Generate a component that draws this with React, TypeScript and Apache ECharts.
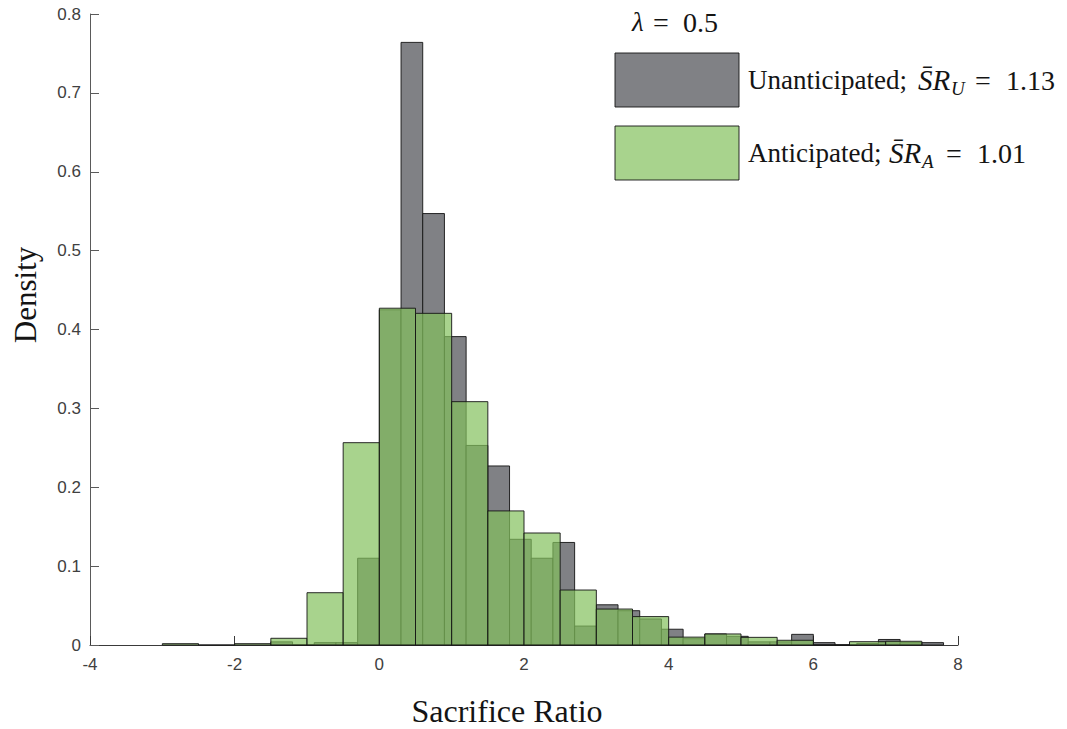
import React, { useEffect, useRef } from "react";
import * as echarts from "echarts";

// Unanticipated (grey) histogram: bin edges and densities
const unantBinStart = [-1.5, -1.2, -0.9, -0.6, -0.3, 0.0, 0.3, 0.6, 0.9, 1.2, 1.5, 1.8, 2.1, 2.4, 2.7, 3.0, 3.3, 3.6, 3.9, 4.2, 4.5, 4.8, 5.1, 5.4, 5.7, 6.0, 6.3, 6.6, 6.9, 7.2, 7.5];
const unantBinEnd = [-1.2, -0.9, -0.6, -0.3, 0.0, 0.3, 0.6, 0.9, 1.2, 1.5, 1.8, 2.1, 2.4, 2.7, 3.0, 3.3, 3.6, 3.9, 4.2, 4.5, 4.8, 5.1, 5.4, 5.7, 6.0, 6.3, 6.6, 6.9, 7.2, 7.5, 7.8];
const unantDensity = [0.004, 0, 0.003, 0.003, 0.110, 0.425, 0.764, 0.547, 0.391, 0.253, 0.227, 0.134, 0.110, 0.130, 0.024, 0.051, 0.0435, 0.033, 0.020, 0.008, 0.014, 0.011, 0.004, 0.004, 0.0135, 0.003, 0, 0.002, 0.007, 0.003, 0.003];

// Anticipated (green) histogram: bin edges and densities
const antBinStart = [-3.0, -2.5, -2.0, -1.5, -1.0, -0.5, 0.0, 0.5, 1.0, 1.5, 2.0, 2.5, 3.0, 3.5, 4.0, 4.5, 5.0, 5.5, 6.0, 6.5, 7.0];
const antBinEnd = [-2.5, -2.0, -1.5, -1.0, -0.5, 0.0, 0.5, 1.0, 1.5, 2.0, 2.5, 3.0, 3.5, 4.0, 4.5, 5.0, 5.5, 6.0, 6.5, 7.0, 7.5];
const antDensity = [0.0017, 0, 0.0017, 0.0085, 0.0663, 0.2565, 0.427, 0.4205, 0.3085, 0.170, 0.142, 0.0697, 0.0456, 0.036, 0.010, 0.014, 0.0097, 0.006, 0, 0.0042, 0.0047];

const xTicks = { min: -4, max: 8, interval: 2 };
const yTicks = { min: 0, max: 0.8, interval: 0.1 };

const xTitle = "Sacrifice Ratio";
const yTitle = "Density";
const lambdaSym = "λ";
const lambdaVal = "0.5";
const unantName = "Unanticipated;";
const unantSub = "U";
const unantMean = "1.13";
const antName = "Anticipated;";
const antSub = "A";
const antMean = "1.01";

const GREY_FILL = "rgb(128,129,133)";
const GREEN_FILL = "rgba(131,192,92,0.7)";
const EDGE = "rgba(20,20,20,0.9)";
const SERIF = "'Liberation Serif', 'Times New Roman', serif";
const SANS = "'Liberation Sans', Arial, sans-serif";
const TXT = "#141414";

function makeRender(fill: string) {
  return (params: any, api: any) => {
    const x0 = api.value(0);
    const x1 = api.value(1);
    const y = api.value(2);
    const p0 = api.coord([x0, y]);
    const p1 = api.coord([x1, 0]);
    return {
      type: "rect",
      shape: { x: p0[0], y: p0[1], width: p1[0] - p0[0], height: p1[1] - p0[1] },
      style: { fill, stroke: EDGE, lineWidth: 1 },
    };
  };
}

function txt(x: number, y: number, text: string, size: number, italic = false, align = "left") {
  return {
    type: "text",
    x,
    y,
    style: {
      text,
      fontFamily: SERIF,
      fontSize: size,
      fontStyle: italic ? "italic" : "normal",
      fill: TXT,
      align,
      verticalAlign: "middle",
    },
  };
}

function legendLine(y: number, name: string, sx: number, sub: string, mean: string) {
  return [
    txt(748, y, name, 27),
    txt(sx, y, "S\u0304R", 29, true),
    txt(sx + 33, y + 8, sub, 19, true),
    txt(sx + 57, y, "=", 28),
    txt(sx + 88, y, mean, 28),
  ];
}

export default function App() {
  const ref = useRef<HTMLDivElement>(null);
  useEffect(() => {
    if (!ref.current) return;
    const chart = echarts.init(ref.current, null, { renderer: "svg" });
    const unantData = unantBinStart.map((s, i) => [s, unantBinEnd[i], unantDensity[i]]);
    const antData = antBinStart.map((s, i) => [s, antBinEnd[i], antDensity[i]]);
    chart.setOption({
      animation: false,
      backgroundColor: "#ffffff",
      grid: { left: 90, width: 868, top: 14, height: 631, containLabel: false },
      xAxis: {
        type: "value",
        min: xTicks.min,
        max: xTicks.max,
        interval: xTicks.interval,
        axisLine: { show: true, onZero: false, lineStyle: { color: "#3a3a3a", width: 1 } },
        axisTick: { show: true, inside: true, length: 9, lineStyle: { color: "#3a3a3a" } },
        axisLabel: { fontFamily: SANS, fontSize: 17, color: "#404040", margin: 11 },
        splitLine: { show: false },
      },
      yAxis: {
        type: "value",
        min: yTicks.min,
        max: yTicks.max,
        interval: yTicks.interval,
        axisLine: { show: true, onZero: false, lineStyle: { color: "#5a5a5a", width: 1 } },
        axisTick: { show: true, inside: true, length: 9, lineStyle: { color: "#5a5a5a" } },
        axisLabel: {
          fontFamily: SANS,
          fontSize: 17,
          color: "#404040",
          margin: 9,
          formatter: (v: number) => (v === 0 ? "0" : v.toFixed(1)),
        },
        splitLine: { show: false },
      },
      series: [
        {
          name: "Unanticipated",
          type: "custom",
          renderItem: makeRender(GREY_FILL),
          encode: { x: [0, 1], y: 2 },
          data: unantData,
          z: 2,
        },
        {
          name: "Anticipated",
          type: "custom",
          renderItem: makeRender(GREEN_FILL),
          encode: { x: [0, 1], y: 2 },
          data: antData,
          z: 3,
        },
      ],
      graphic: [
        {
          type: "text",
          x: 507,
          y: 711,
          style: {
            text: xTitle,
            fontFamily: SERIF,
            fontSize: 32,
            fill: TXT,
            align: "center",
            verticalAlign: "middle",
          },
        },
        {
          type: "text",
          x: 25,
          y: 295,
          rotation: Math.PI / 2,
          style: {
            text: yTitle,
            fontFamily: SERIF,
            fontSize: 31,
            fill: TXT,
            align: "center",
            verticalAlign: "middle",
          },
        },
        txt(632, 22, lambdaSym, 27, true),
        txt(653, 22, "=", 28),
        txt(683, 22, lambdaVal, 28),
        {
          type: "rect",
          shape: { x: 615, y: 53, width: 124, height: 54 },
          style: { fill: GREY_FILL, stroke: EDGE, lineWidth: 1 },
        },
        {
          type: "rect",
          shape: { x: 615, y: 126, width: 124, height: 54 },
          style: { fill: GREEN_FILL, stroke: EDGE, lineWidth: 1 },
        },
        ...legendLine(80, unantName, 918, unantSub, unantMean),
        ...legendLine(153, antName, 889, antSub, antMean),
      ],
    });
    return () => chart.dispose();
  }, []);
  return (
    <div
      ref={ref}
      style={{ position: "fixed", left: 0, top: 0, width: 1067, height: 729 }}
    />
  );
}
